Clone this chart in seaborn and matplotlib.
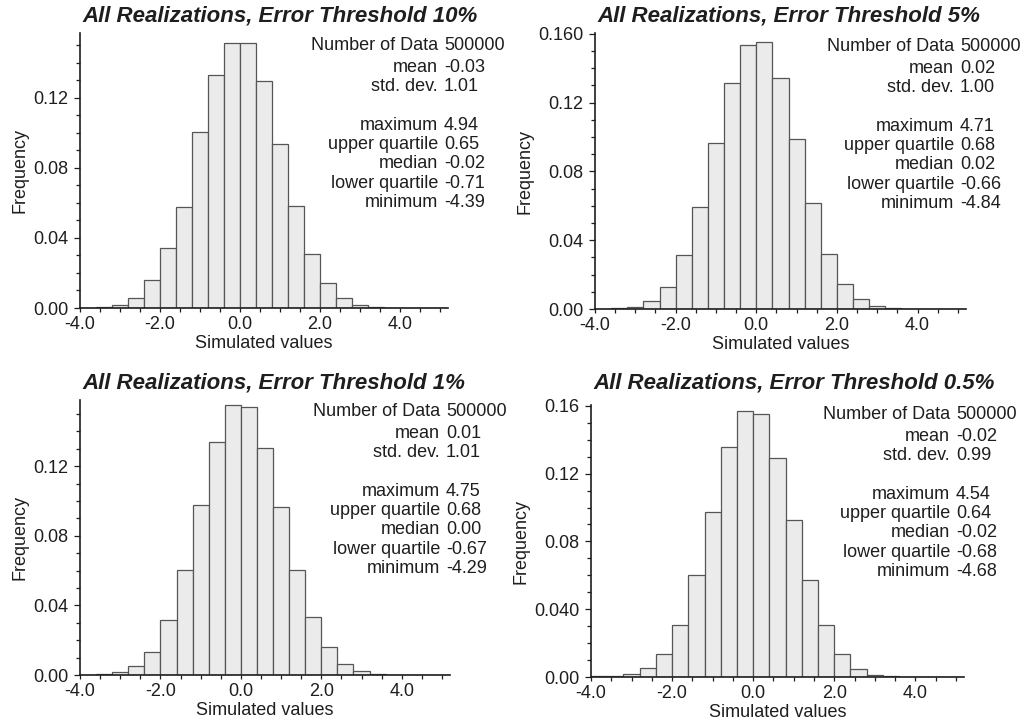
import numpy as np
import pandas as pd
import matplotlib
matplotlib.use("Agg")
import matplotlib.pyplot as plt
import seaborn as sns
from matplotlib.ticker import MultipleLocator, FixedLocator, FixedFormatter

# Histogram bin edges (class width 0.4) and bar heights (relative frequency)
bin_edges = [round(-4.0 + 0.4 * k, 2) for k in range(24)]

freq_10 = [0.0002, 0.0006, 0.0017, 0.0059, 0.0162, 0.0341, 0.0577, 0.1004, 0.1333, 0.1514,
           0.1514, 0.1297, 0.0939, 0.0581, 0.0310, 0.0143, 0.0057, 0.0017, 0.0006, 0.0002,
           0.0001, 0.0001, 0.0000]
freq_5 = [0.0001, 0.0004, 0.0014, 0.0047, 0.0130, 0.0315, 0.0596, 0.0963, 0.1315, 0.1536,
          0.1555, 0.1346, 0.0988, 0.0616, 0.0320, 0.0146, 0.0058, 0.0017, 0.0006, 0.0002,
          0.0001, 0.0000, 0.0000]
freq_1 = [0.0002, 0.0004, 0.0015, 0.0052, 0.0135, 0.0318, 0.0602, 0.0978, 0.1341, 0.1549,
          0.1542, 0.1302, 0.0965, 0.0606, 0.0334, 0.0160, 0.0062, 0.0021, 0.0006, 0.0002,
          0.0001, 0.0000, 0.0000]
freq_05 = [0.0004, 0.0006, 0.0016, 0.0055, 0.0137, 0.0308, 0.0599, 0.0974, 0.1357, 0.1571,
           0.1549, 0.1292, 0.0927, 0.0571, 0.0304, 0.0137, 0.0049, 0.0014, 0.0004, 0.0001,
           0.0001, 0.0000, 0.0000]

titles = ["All Realizations, Error Threshold 10%", "All Realizations, Error Threshold 5%",
          "All Realizations, Error Threshold 1%", "All Realizations, Error Threshold 0.5%"]

stat_names = ["Number of Data", "mean", "std. dev.", "maximum", "upper quartile",
              "median", "lower quartile", "minimum"]
stats_10 = ["500000", "-0.03", "1.01", "4.94", "0.65", "-0.02", "-0.71", "-4.39"]
stats_5 = ["500000", "0.02", "1.00", "4.71", "0.68", "0.02", "-0.66", "-4.84"]
stats_1 = ["500000", "0.01", "1.01", "4.75", "0.68", "0.00", "-0.67", "-4.29"]
stats_05 = ["500000", "-0.02", "0.99", "4.54", "0.64", "-0.02", "-0.68", "-4.68"]

ytick_vals = [0.00, 0.04, 0.08, 0.12, 0.16]
ytick_labels_10 = ["0.00", "0.04", "0.08", "0.12", ""]
ytick_labels_5 = ["0.00", "0.04", "0.08", "0.12", "0.160"]
ytick_labels_1 = ["0.00", "0.04", "0.08", "0.12", ""]
ytick_labels_05 = ["0.00", "0.040", "0.08", "0.12", "0.16"]
xtick_vals = [-4.0, -2.0, 0.0, 2.0, 4.0]

W, H = 1024, 723
sns.set_theme(style="white")
plt.rcParams["font.family"] = ["Liberation Sans", "DejaVu Sans"]
fig = plt.figure(figsize=(W / 100, H / 100), dpi=100)

# panel frames in pixels: left, right, top, bottom ; y upper limit
frames = [
    (80, 448, 33, 308, 0.157),
    (595, 966, 33, 309, 0.1605),
    (80, 450, 400, 675, 0.158),
    (591, 964, 405, 677, 0.1605),
]
title_y = [16, 16, 383, 383]
stat_x = [438, 954, 440, 950]
stat_y0 = [50, 51, 416, 419]          # baseline of the first statistics line
line_offsets = [0, 22, 41, 80, 99, 118, 138, 157]

panels = [
    (freq_10, stats_10, ytick_labels_10),
    (freq_5, stats_5, ytick_labels_5),
    (freq_1, stats_1, ytick_labels_1),
    (freq_05, stats_05, ytick_labels_05),
]

ink = "#1e1e1e"
centers = [(a + b) / 2 for a, b in zip(bin_edges[:-1], bin_edges[1:])]
for i, ((l, r, t, b, ytop), (freq, stats, ylabs)) in enumerate(zip(frames, panels)):
    ax = fig.add_axes([l / W, 1 - b / H, (r - l) / W, (b - t) / H])
    df = pd.DataFrame({"value": centers, "freq": freq})
    sns.histplot(data=df, x="value", weights="freq", bins=bin_edges, stat="count",
                 color="#ebebeb", edgecolor="#555555", linewidth=0.9, alpha=1.0, ax=ax)
    ax.set_xlim(-4.0, 5.2)
    ax.set_ylim(0, ytop)
    for s in ("top", "right"):
        ax.spines[s].set_visible(False)
    for s in ("left", "bottom"):
        ax.spines[s].set_color(ink)
        ax.spines[s].set_linewidth(1.2)
    ax.yaxis.set_major_locator(FixedLocator(ytick_vals))
    ax.yaxis.set_major_formatter(FixedFormatter(ylabs))
    ax.yaxis.set_minor_locator(MultipleLocator(0.01))
    ax.xaxis.set_major_locator(FixedLocator(xtick_vals))
    ax.xaxis.set_major_formatter(FixedFormatter([f"{v:.1f}" for v in xtick_vals]))
    ax.xaxis.set_minor_locator(MultipleLocator(0.5))
    ax.tick_params(which="both", direction="out", color=ink, width=0.9,
                   left=True, bottom=True, labelsize=13, labelcolor=ink)
    ax.tick_params(axis="y", which="major", length=4, pad=4.5)
    ax.tick_params(axis="x", which="major", length=3, pad=3)
    ax.tick_params(which="minor", length=3)
    ax.set_xlabel("Simulated values", fontsize=13, color=ink, labelpad=1)
    ax.set_ylabel("Frequency", fontsize=13, color=ink, labelpad=3)
    ax.grid(False)
    ax.patch.set_alpha(0)

    fig.text((l + 2) / W, 1 - title_y[i] / H, titles[i], fontsize=16, fontweight="bold",
             fontstyle="italic", color=ink, ha="left", va="center")

    for name, val, off in zip(stat_names, stats, line_offsets):
        yy = 1 - (stat_y0[i] + off) / H
        fig.text(stat_x[i] / W, yy, name, fontsize=13, color=ink, ha="right", va="baseline")
        fig.text((stat_x[i] + 6) / W, yy, val, fontsize=13, color=ink, ha="left", va="baseline")

fig.savefig("out.png", dpi=100, facecolor="white")
